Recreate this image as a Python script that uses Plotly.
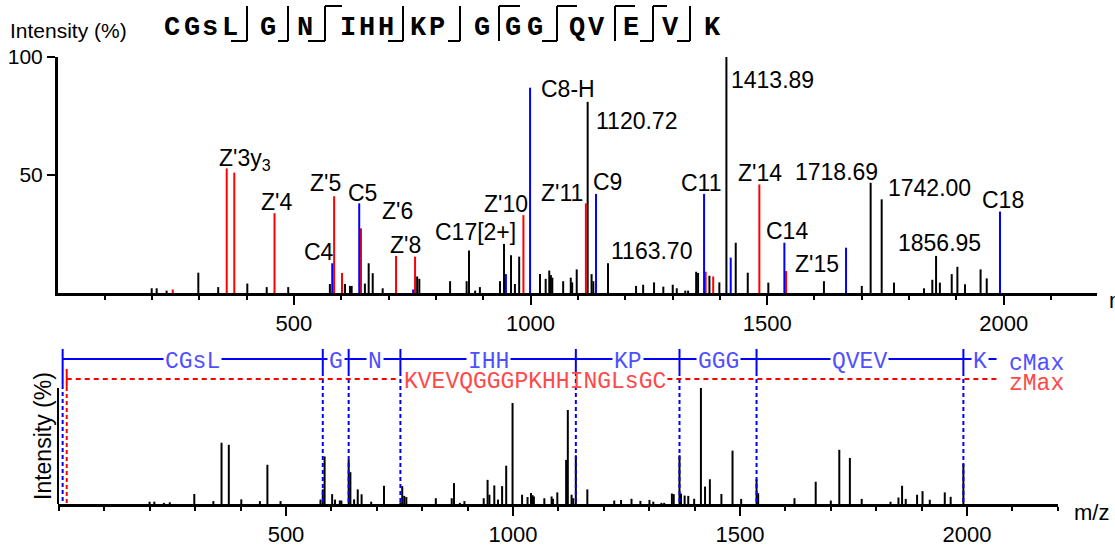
import plotly.graph_objects as go

W, H = 1115, 550

# ---------------- data (m/z, relative intensity %) ----------------
black_mz = [199.5, 210, 231, 298, 340, 401.5, 442.5, 488, 576, 608,
            618.5, 622, 650, 658, 666.5, 687.6, 760.4, 765, 830, 865,
            870, 883, 893, 935.5, 944, 958.8, 967, 976, 1020, 1032,
            1039.6, 1043, 1046, 1069, 1085, 1088, 1097.6, 1120.72, 1129, 1132.7,
            1163.70, 1223, 1238, 1261, 1280.6, 1300.5, 1309, 1327, 1333, 1350,
            1354, 1378, 1399, 1413.89, 1433.6, 1459, 1502.5, 1620, 1700, 1718.69,
            1742.00, 1768, 1831.5, 1849, 1856.95, 1865, 1890, 1902, 1918, 1951,
            1964]
black_int = [2, 2, 1, 8.6, 2.5, 4, 2.5, 2.5, 3.8, 3.8,
             3, 3, 4, 12.6, 8.4, 2, 7, 6, 5, 5,
             18, 1, 2.5, 5, 20.8, 16, 3.8, 15.4, 8, 6,
             9.5, 7.6, 6.5, 5, 6.5, 4.5, 10, 81, 8, 5,
             12.6, 3, 3.5, 4.5, 2.7, 3.5, 2, 1, 1, 9,
             8.5, 7.3, 4.5, 100, 21.3, 8.6, 4.4, 5, 3, 46.7,
             39.7, 4.4, 2, 5.6, 15.7, 4.4, 8, 11.1, 3.7, 10,
             6.2]

red_mz = [244, 358, 374, 459, 585, 601.6, 641.8, 715.8, 756, 985,
          1117, 1370, 1386, 1483.5, 1540]
red_int = [1.5, 52.8, 51, 33.8, 41, 8.5, 27.4, 15.7, 15.4, 33,
           38, 9, 7, 46, 9.3]

blue_mz = [581, 638, 752, 948, 999, 1138.4, 1366.7, 1423, 1536.4, 1666.7, 1992]
blue_int = [12.6, 38, 1.5, 8, 87, 42, 42, 15, 21.3, 19.2, 34.5]

# x-axis tick labels
x_tick_vals = [500, 1000, 1500, 2000]
x_tick_text = ["500", "1000", "1500", "2000"]

# peak annotations (text, m/z of label centre, height of label centre in %)
peak_label_text = ["Z'3y<sub>3</sub>", "Z'4", "Z'5", "C5", "C4", "Z'6", "Z'8",
                   "C17[2+]", "Z'10", "Z'11", "C9", "1163.70", "C11", "Z'14",
                   "C14", "Z'15", "1718.69", "1742.00", "C18", "1856.95",
                   "C8-H", "1120.72", "1413.89"]
peak_label_mz = [396, 464, 566, 644, 553, 718, 735,
                 883, 948, 1067, 1162, 1255, 1362, 1485,
                 1542, 1606, 1646, 1844, 1999, 1865,
                 1079, 1223, 1512]
peak_label_int = [56.5, 38.6, 46.6, 42.4, 17.4, 34.7, 20.3,
                  25.8, 37.7, 42.4, 47, 17.8, 46.6, 50.8,
                  26.3, 12.3, 51.3, 44.5, 39.4, 21.2,
                  86.4, 72.9, 90.3]

# fragment map (bottom panel)
c_cut_mz = [8, 581, 638, 752, 1138.4, 1366.7, 1536.4, 1992]
c_seg_text = ["CGsL", "G", "N", "IHH", "KP", "GGG", "QVEV", "K"]
c_end_mz = 2065
z_start_mz = 17
z_seq_text = "KVEVQGGGPKHHINGLsGC"

# header sequence
header_chars = list("CGsLGNIHHKPGGGQVEVK")

# ---------------- layout constants (pixels) ----------------
header_char_px = [172, 191.5, 210, 230, 268, 305, 348, 367, 386, 418, 437,
                  482, 513, 535, 577, 597, 631, 670, 712]
# (x of vertical, foot left x or None, cap right x or None)
header_seps = [(247, 231, None), (288, 278, None), (325, 308, 342),
               (403, 388, None), (460, 448, None), (499, None, 520),
               (557, 542, 577), (615, None, 635), (653, 640, 667),
               (690, 677, None)]

SANS = "Arial, Liberation Sans, sans-serif"
MONO = "Courier New, Liberation Mono, monospace"
BLUE = "#0000ff"
RED = "#ff0000"
BLUE_TXT = "#5050ff"
RED_TXT = "#ff4848"


def px(x):
    return x / W


def py(y):
    return 1 - y / H


def stems(mz, inten):
    xs, ys = [], []
    for m, i in zip(mz, inten):
        xs += [m, m, None]
        ys += [0, i, None]
    return xs, ys


fig = go.Figure()

# ---------- top spectrum ----------
for mz, it, col in [(black_mz, black_int, "black"), (red_mz, red_int, RED),
                    (blue_mz, blue_int, BLUE)]:
    xs, ys = stems(mz, it)
    fig.add_trace(go.Scatter(x=xs, y=ys, mode="lines", xaxis="x", yaxis="y",
                             line=dict(color=col, width=2), hoverinfo="skip",
                             showlegend=False))

# ---------- bottom spectrum (all black) ----------
all_mz = black_mz + red_mz + blue_mz
all_int = black_int + red_int + blue_int
xs, ys = stems(all_mz, all_int)
fig.add_trace(go.Scatter(x=xs, y=ys, mode="lines", xaxis="x2", yaxis="y2",
                         line=dict(color="black", width=2), hoverinfo="skip",
                         showlegend=False))

# bottom fragment map (y2 units: 100 % = top of spectrum)
Y_BLUE = 125.0
Y_BLUE_TOP = 133.6
Y_BLUE_TICK_BOT = 113.8
Y_RED = 107.8


def add_line(x, y, color, dash="solid", width=2):
    fig.add_trace(go.Scatter(x=x, y=y, mode="lines", xaxis="x2", yaxis="y2",
                             line=dict(color=color, width=width, dash=dash),
                             hoverinfo="skip", showlegend=False))


# blue solid horizontal line
add_line([c_cut_mz[0], c_end_mz], [Y_BLUE, Y_BLUE], BLUE)
# blue vertical ticks + dashed drops
for i, m in enumerate(c_cut_mz):
    bot = 102.6 if i == 0 else Y_BLUE_TICK_BOT
    add_line([m, m], [Y_BLUE_TOP, bot], BLUE)
    add_line([m, m], [bot, 0], BLUE, dash="4px,3px")
# red dashed line (broken by the sequence text)
add_line([z_start_mz, 745], [Y_RED, Y_RED], RED, dash="5px,4px")
add_line([1340, c_end_mz], [Y_RED, Y_RED], RED, dash="5px,4px")
add_line([z_start_mz, z_start_mz], [116.4, 100.9], RED)
add_line([z_start_mz, z_start_mz], [100.9, 0], RED, dash="4px,3px")

annotations = []


def ann(**kw):
    kw.setdefault("showarrow", False)
    kw.setdefault("xanchor", "center")
    kw.setdefault("yanchor", "middle")
    annotations.append(kw)


# segment labels
cuts = c_cut_mz + [c_end_mz]
for i, t in enumerate(c_seg_text):
    mid = (cuts[i] + cuts[i + 1]) / 2
    ann(x=mid, y=122.4, xref="x2", yref="y2", text=t, bgcolor="white",
        borderpad=1, font=dict(family=MONO, size=23, color=BLUE_TXT))
ann(x=756, y=105.2, xref="x2", yref="y2", text=z_seq_text, xanchor="left",
    font=dict(family=MONO, size=23, color=RED_TXT))
ann(x=2087, y=120.7, xref="x2", yref="y2", text="cMax", xanchor="left",
    font=dict(family=MONO, size=23, color=BLUE_TXT))
ann(x=2087, y=103.4, xref="x2", yref="y2", text="zMax", xanchor="left",
    font=dict(family=MONO, size=23, color=RED_TXT))

# peak labels top
for t, m, v in zip(peak_label_text, peak_label_mz, peak_label_int):
    ann(x=m, y=v, xref="x", yref="y", text=t,
        font=dict(family=SANS, size=23, color="black"))

# axis titles
ann(x=px(8), y=py(30), xref="paper", yref="paper", text="Intensity (%)",
    xanchor="left", font=dict(family=SANS, size=21, color="black"))
ann(x=px(1107), y=py(300), xref="paper", yref="paper", text="m/z",
    xanchor="left", font=dict(family=SANS, size=22, color="black"))
ann(x=px(1072), y=py(512), xref="paper", yref="paper", text="m/z",
    xanchor="left", font=dict(family=SANS, size=22, color="black"))
ann(x=px(43), y=py(436), xref="paper", yref="paper", text="Intensity (%)",
    textangle=-90, font=dict(family=SANS, size=23, color="black"))

# header sequence
for ch, xp in zip(header_chars, header_char_px):
    ann(x=px(xp), y=py(28), xref="paper", yref="paper",
        text="<b>" + ch + "</b>",
        font=dict(family=MONO, size=27, color="black"))

shapes = []
for xv, foot, cap in header_seps:
    shapes.append(dict(type="line", xref="paper", yref="paper",
                       x0=px(xv), x1=px(xv), y0=py(6), y1=py(41),
                       line=dict(color="black", width=2)))
    if foot is not None:
        shapes.append(dict(type="line", xref="paper", yref="paper",
                           x0=px(foot), x1=px(xv), y0=py(41), y1=py(41),
                           line=dict(color="black", width=2)))
    if cap is not None:
        shapes.append(dict(type="line", xref="paper", yref="paper",
                           x0=px(xv), x1=px(cap), y0=py(6), y1=py(6),
                           line=dict(color="black", width=2)))
# bottom y-axis line (0-100 %)
shapes.append(dict(type="line", xref="x2 domain", yref="y2", x0=0, x1=0,
                   y0=0, y1=100, line=dict(color="black", width=2)))

xaxis_common = dict(showgrid=False, zeroline=False, showline=True,
                    automargin=False,
                    linecolor="black", linewidth=3, ticks="outside",
                    ticklen=9, tickwidth=2, tickcolor="black",
                    tickmode="array", tickvals=x_tick_vals,
                    ticktext=x_tick_text,
                    tickfont=dict(family=SANS, size=22, color="black"),
                    minor=dict(tickmode="linear", dtick=100, tick0=0,
                               ticks="outside", ticklen=4, tickwidth=2,
                               tickcolor="black", showgrid=False),
                    ticklabelstandoff=0)

fig.update_layout(
    template="none",
    width=W, height=H,
    autosize=False,
    margin=dict(l=0, r=0, t=0, b=0, pad=0, autoexpand=False),
    paper_bgcolor="white", plot_bgcolor="white",
    showlegend=False,
    xaxis=dict(domain=[px(58), px(1097)], range=[1.5, 2197], anchor="y",
               **xaxis_common),
    yaxis=dict(domain=[py(293), py(57)], range=[0, 100], anchor="x",
               automargin=False,
               showgrid=False, zeroline=False, showline=True,
               linecolor="black", linewidth=3, ticks="outside", ticklen=8,
               tickwidth=2, tickcolor="black", tickvals=[50, 100],
               ticktext=["50", "100"], ticklabelstandoff=0,
               tickfont=dict(family=SANS, size=21, color="black")),
    xaxis2=dict(domain=[px(58), px(1058)], range=[-2.2, 2200.4], anchor="y2",
                **xaxis_common),
    yaxis2=dict(domain=[py(504), py(345)], range=[0, 137], anchor="x2",
                automargin=False,
                showgrid=False, zeroline=False, showline=False,
                showticklabels=False, ticks=""),
    annotations=annotations,
    shapes=shapes,
)

fig.write_html("out.html",
               config={"displayModeBar": False},
               post_script="document.body.style.margin='0';"
                           "document.body.style.overflow='hidden';")
